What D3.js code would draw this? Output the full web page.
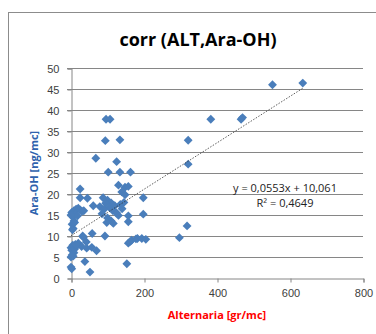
<!DOCTYPE html>
<html>
<head>
<meta charset="utf-8">
<script src="https://cdn.jsdelivr.net/npm/d3@7"></script>
<style>
  html, body { margin: 0; padding: 0; background: #fff; }
  svg { display: block; font-family: "Open Sans", "Noto Sans", sans-serif; }
</style>
</head>
<body>
<div id="chart"></div>
<script>
// Alternaria [gr/mc] vs Ara-OH [ng/mc]
const altX = [
  635, 552, 466, 470, 383, 321, 321, 318, 297,
  96, 107, 94, 134, 68, 125, 102, 134, 163,
  25, 130, 148, 157, 139, 148, 25, 45, 88, 198, 100, 110, 61, 79, 95, 105, 120, 135, 145, 115, 90, 85, 130, 157, 198, 100, 110, 116, 98, 157, 125, 140,
  2, 8, 14, 20, 25, 30, 12, 5, 8, 3, 6, 10, 18, 35, 0, 4,
  32, 58, 93, 34,
  157, 161, 166, 178, 182, 194, 205,
  20, 42, 29, 43, 57, 70,
  0, 2, 5, 8, 3, 10, 14, 0, 6, 12,
  38, 52, 153, 0, 2
];
const araY = [
  46.4, 46.0, 37.8, 38.2, 37.8, 32.8, 27.1, 12.4, 9.6,
  37.8, 37.8, 32.7, 32.9, 28.5, 27.7, 25.2, 25.2, 25.2,
  21.2, 22.1, 21.6, 21.8, 20.5, 19.8, 19.1, 19.0, 19.1, 19.1, 18.5, 17.9, 17.2, 17.0, 17.8, 16.8, 17.2, 17.5, 18.0, 16.0, 16.3, 15.3, 14.9, 14.8, 15.2, 14.3, 13.6, 13.0, 13.2, 13.4, 15.5, 16.5,
  15.6, 16.0, 16.4, 16.6, 16.2, 15.9, 15.2, 14.5, 13.6, 12.8, 11.8, 13.2, 14.8, 16.0, 15.0, 11.5,
  10.0, 10.6, 10.0, 9.7,
  8.3, 8.6, 9.0, 9.3, 9.4, 9.4, 9.2,
  8.3, 8.6, 7.5, 7.1, 7.3, 6.5,
  7.2, 6.6, 7.8, 6.0, 5.5, 6.9, 7.5, 5.0, 5.2, 8.0,
  3.9, 1.4, 3.4, 2.6, 2.2
];
const xTicks = [0, 200, 400, 600, 800];
const yTicks = [0, 5, 10, 15, 20, 25, 30, 35, 40, 45, 50];
const slope = 0.0553;
const intercept = 10.061;
const eqLabel = "y = 0,0553x + 10,061";
const r2Label = "R² = 0,4649";

const width = 376, height = 334;
const svg = d3.select("#chart").append("svg")
  .attr("width", width).attr("height", height);

// chart frame (runs off the right and bottom edges)
svg.append("rect")
  .attr("x", 8.5).attr("y", 12.5)
  .attr("width", 400).attr("height", 400)
  .attr("fill", "#fff").attr("stroke", "#8c8c8c");

const x = d3.scaleLinear().domain([0, 800]).range([71, 363]);
const y = d3.scaleLinear().domain([0, 50]).range([278, 68]);

// gridlines
svg.append("g").selectAll("line")
  .data(yTicks.filter(d => d > 0))
  .join("line")
  .attr("x1", 67).attr("x2", x(800))
  .attr("y1", d => Math.round(y(d)) + 0.5).attr("y2", d => Math.round(y(d)) + 0.5)
  .attr("stroke", "#868686");

// y axis
const yAxis = svg.append("g")
  .attr("transform", "translate(71.5,0.5)")
  .call(d3.axisLeft(y).tickValues(yTicks).tickSize(4).tickPadding(8));
yAxis.select(".domain").attr("stroke", "#868686");
yAxis.selectAll(".tick line").attr("stroke", "#868686");
yAxis.selectAll("text").attr("font-size", 11).attr("fill", "#404040");

// x axis
const xAxis = svg.append("g")
  .attr("transform", "translate(0.5,278.5)")
  .call(d3.axisBottom(x).tickValues(xTicks).tickSize(4).tickPadding(7));
xAxis.select(".domain").attr("stroke", "#868686");
xAxis.selectAll(".tick line").attr("stroke", "#868686");
xAxis.selectAll("text").attr("font-size", 11).attr("fill", "#404040");

// points
const pts = altX.map((v, i) => [v, araY[i]]);
svg.append("g").selectAll("path")
  .data(pts)
  .join("path")
  .attr("d", d3.symbol().type(d3.symbolDiamond2).size(50))
  .attr("transform", d => `translate(${x(d[0])},${y(d[1])})`)
  .attr("fill", "#4a7ebb");

// linear trendline
const xMax = d3.max(altX);
svg.append("line")
  .attr("x1", x(0)).attr("y1", y(intercept))
  .attr("x2", x(xMax)).attr("y2", y(slope * xMax + intercept))
  .attr("stroke", "#333")
  .attr("stroke-width", 0.8)
  .attr("stroke-dasharray", "1.5,1.5");

svg.append("text")
  .attr("x", 285).attr("y", 192)
  .attr("text-anchor", "middle").attr("font-size", 11).attr("fill", "#222")
  .text(eqLabel);
svg.append("text")
  .attr("x", 285).attr("y", 207)
  .attr("text-anchor", "middle").attr("font-size", 11).attr("fill", "#222")
  .text(r2Label);

// titles
svg.append("text")
  .attr("x", 198).attr("y", 46)
  .attr("text-anchor", "middle").attr("font-size", 18).attr("font-weight", "bold")
  .attr("fill", "#000")
  .text("corr (ALT,Ara-OH)");

svg.append("text")
  .attr("transform", "translate(38,173) rotate(-90)")
  .attr("text-anchor", "middle").attr("font-size", 11).attr("font-weight", "bold")
  .attr("fill", "#2e62ad")
  .text("Ara-OH  [ng/mc]");

svg.append("text")
  .attr("x", 217).attr("y", 319)
  .attr("text-anchor", "middle").attr("font-size", 11).attr("font-weight", "bold")
  .attr("fill", "#ff0000")
  .text("Alternaria [gr/mc]");
</script>
</body>
</html>
